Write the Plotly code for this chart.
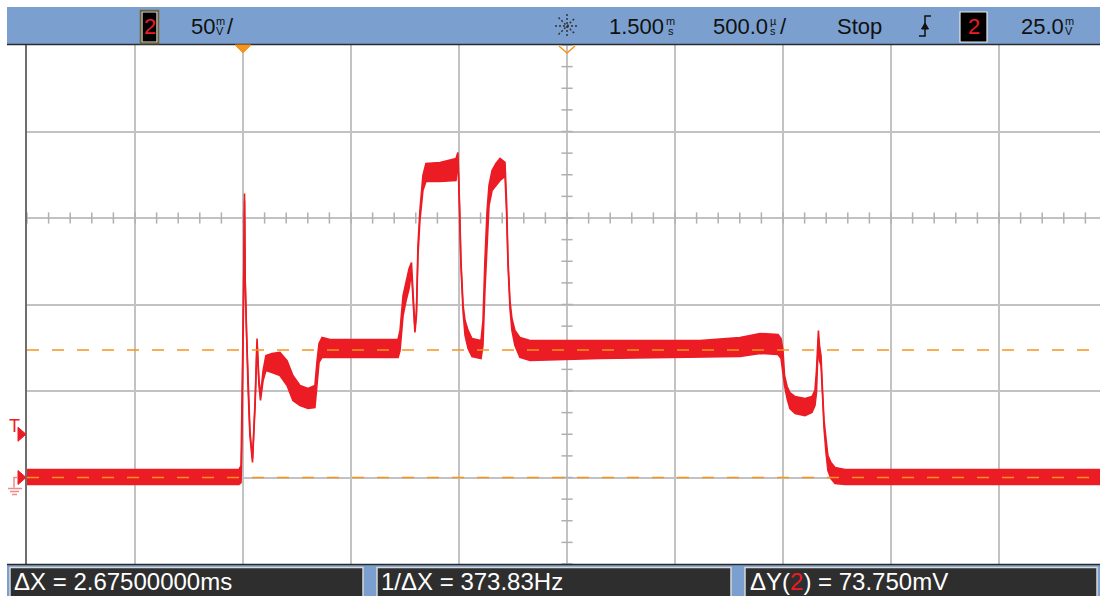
import plotly.graph_objects as go

# ---------------- data (time in ms, voltage in mV) ----------------
t_ms = [-1.000, -0.019, -0.009, -0.005, 0.002, 0.007, 0.010, 0.016, 0.023, 0.032,
        0.044, 0.056, 0.065, 0.074, 0.081, 0.093, 0.106, 0.134, 0.171, 0.204,
        0.231, 0.264, 0.301, 0.333, 0.343, 0.352, 0.366, 0.403, 0.718, 0.727,
        0.741, 0.755, 0.769, 0.780, 0.787, 0.796, 0.803, 0.810, 0.819, 0.833,
        0.847, 0.912, 0.986, 0.995, 1.002, 1.009, 1.019, 1.028, 1.042, 1.060,
        1.102, 1.111, 1.120, 1.130, 1.139, 1.153, 1.171, 1.190, 1.213, 1.220,
        1.227, 1.236, 1.245, 1.259, 1.282, 1.329, 1.653, 2.116, 2.301, 2.394,
        2.477, 2.491, 2.500, 2.507, 2.519, 2.532, 2.556, 2.602, 2.634, 2.648,
        2.655, 2.660, 2.664, 2.669, 2.676, 2.683, 2.690, 2.699, 2.708, 2.722,
        2.741, 2.787, 3.968]
upper_mV = [4.6, 4.6, 6.9, 38.7, 102.3, 164.2, 115.6, 85.0, 56.1, 27.2,
            11.0, 44.5, 80.3, 56.1, 47.4, 61.8, 70.5, 71.7, 72.3, 67.6,
            59.0, 53.2, 51.4, 53.2, 67.6, 77.5, 80.9, 79.8, 79.8, 85.0,
            105.2, 113.9, 120.8, 124.3, 108.1, 86.1, 96.5, 134.1, 154.3, 174.6,
            181.5, 182.1, 184.4, 187.9, 160.1, 125.4, 99.4, 90.7, 85.0, 80.3,
            79.2, 90.7, 125.4, 154.3, 168.8, 177.4, 181.5, 184.4, 182.1, 160.1,
            125.4, 102.3, 91.9, 85.0, 80.9, 79.2, 79.2, 79.2, 80.9, 83.2,
            82.7, 80.3, 73.4, 59.0, 52.6, 49.1, 46.8, 45.7, 46.8, 50.3,
            61.8, 79.2, 85.0, 76.3, 70.5, 50.3, 32.9, 22.5, 12.7, 8.7,
            5.8, 4.6, 4.6]
lower_mV = [-4.0, -4.0, -2.9, 21.4, 96.5, 160.1, 113.9, 82.1, 53.2, 24.3,
            8.7, 41.6, 78.0, 53.2, 44.5, 56.1, 61.8, 60.7, 59.0, 53.2,
            44.5, 41.6, 39.9, 40.5, 53.2, 66.5, 69.4, 69.4, 69.4, 73.4,
            93.6, 102.3, 109.2, 118.5, 105.2, 83.8, 93.6, 128.3, 148.5, 165.9,
            171.1, 171.1, 171.7, 183.2, 157.2, 122.5, 95.4, 82.1, 74.6, 69.9,
            68.8, 76.3, 108.1, 137.0, 157.2, 165.9, 168.8, 171.7, 174.0, 154.3,
            122.5, 97.7, 85.0, 76.3, 69.4, 67.6, 68.8, 69.4, 69.9, 71.7,
            71.1, 68.8, 60.7, 53.2, 45.7, 39.9, 37.0, 35.8, 37.6, 41.6,
            49.1, 70.5, 80.3, 67.6, 64.7, 47.4, 28.3, 14.5, 4.0, -0.6,
            -3.5, -4.0, -4.0]

cursor_t_ms = [0.0, 2.675]       # X1, X2 cursors
cursor_v_mV = [0.0, 73.75]       # Y2, Y1 cursors
trigger_level_mV = 25.0
volts_per_div_mV = 50
time_per_div_us = 500.0
delay_ms = 1.5
x_range = [-1.0, 3.9676]
y_range = [-50, 250]

# ---------------- styling ----------------
RED = "#EC1C24"
ORANGE = "#F7941D"
PALE_OR = "#F9BC7A"
GRID = "#C2C2C2"
BLUE = "#7BA0CF"
BOXBG = "#2E2E2E"
FONT = "Liberation Sans, Arial, sans-serif"

W, H = 1100, 596
L, T, B, R = 27, 45, 32, 0
PW, PH = W - L - R, H - T - B


def px(x):
    return (x - L) / PW


def py(y):
    return (H - B - y) / PH


fig = go.Figure()

# centre-axis minor ticks
n_xt = int(round((x_range[1] - x_range[0]) / 0.1)) + 1
xt = [x_range[0] + 0.1 * i for i in range(n_xt)]
fig.add_trace(go.Scatter(x=xt, y=[150] * len(xt), mode="markers",
                         marker=dict(symbol="line-ns", size=8,
                                     line=dict(color="#B0B0B0", width=1.5)),
                         hoverinfo="skip", showlegend=False))
yt = [y_range[0] + 12.5 * i for i in range(25)]
fig.add_trace(go.Scatter(x=[delay_ms] * len(yt), y=yt, mode="markers",
                         marker=dict(symbol="line-ew", size=8,
                                     line=dict(color="#B0B0B0", width=1.5)),
                         hoverinfo="skip", showlegend=False))
fig.add_shape(type="line", xref="paper", yref="y", x0=0, x1=1, y0=150, y1=150,
              line=dict(color="#B0B0B0", width=1.5), layer="below")
fig.add_shape(type="line", xref="x", yref="paper", x0=delay_ms, x1=delay_ms, y0=0, y1=1,
              line=dict(color="#B0B0B0", width=1.5), layer="below")

# signal envelope
fig.add_trace(go.Scatter(x=t_ms, y=lower_mV, mode="lines",
                         line=dict(color=RED, width=1.6),
                         hoverinfo="skip", showlegend=False))
fig.add_trace(go.Scatter(x=t_ms, y=upper_mV, mode="lines", fill="tonexty",
                         fillcolor=RED, line=dict(color=RED, width=1.6),
                         hoverinfo="skip", showlegend=False))

shapes = []
for tc in cursor_t_ms:
    shapes.append(dict(type="line", xref="x", yref="paper", x0=tc, x1=tc, y0=1, y1=0,
                       line=dict(color=PALE_OR, width=2, dash="12px,12px")))
for vc in cursor_v_mV:
    shapes.append(dict(type="line", xref="paper", yref="y", x0=0, x1=1, y0=vc, y1=vc,
                       line=dict(color=ORANGE, width=1.5, dash="12px,13px")))

# header bar
shapes.append(dict(type="rect", xref="paper", yref="paper", x0=px(7), x1=px(1100),
                   y0=py(44), y1=py(7), fillcolor=BLUE, line=dict(width=0)))
shapes.append(dict(type="line", xref="paper", yref="paper", x0=px(7), x1=px(1100),
                   y0=py(44.5), y1=py(44.5), line=dict(color="#2A2A2A", width=1.5)))
# footer bar
shapes.append(dict(type="rect", xref="paper", yref="paper", x0=px(7), x1=px(1100),
                   y0=py(600), y1=py(564), fillcolor=BLUE, line=dict(width=0)))
shapes.append(dict(type="line", xref="paper", yref="paper", x0=px(7), x1=px(1100),
                   y0=py(564.5), y1=py(564.5), line=dict(color="#2A2A2A", width=1.5)))
for (a, b) in [(10, 363), (377, 731), (745, 1097)]:
    shapes.append(dict(type="rect", xref="paper", yref="paper", x0=px(a), x1=px(b),
                       y0=py(604), y1=py(567.5), fillcolor=BOXBG,
                       line=dict(color="#D8D8D8", width=1.5)))

# channel boxes in header
shapes.append(dict(type="rect", xref="paper", yref="paper", x0=px(140.5), x1=px(158.5),
                   y0=py(43.5), y1=py(10.5), fillcolor="#000000",
                   line=dict(color="#6E6232", width=1.5)))
for (a, b) in [(142, 157), (960, 987)]:
    shapes.append(dict(type="rect", xref="paper", yref="paper", x0=px(a), x1=px(b),
                       y0=py(42), y1=py(12), fillcolor="#000000",
                       line=dict(color="#E8E8E8", width=1.2)))

# trigger position marker (solid) and delay marker (open)
shapes.append(dict(type="path", xref="paper", yref="paper",
                   path=f"M {px(235)} {py(45)} L {px(251)} {py(45)} L {px(243)} {py(53)} Z",
                   fillcolor=ORANGE, line=dict(color=ORANGE, width=1)))
shapes.append(dict(type="path", xref="paper", yref="paper",
                   path=f"M {px(559)} {py(46)} L {px(567)} {py(53)} L {px(575)} {py(46)}",
                   line=dict(color=ORANGE, width=1.5)))

# left side markers: trigger level and ground
trig_py = T + (y_range[1] - trigger_level_mV) / (y_range[1] - y_range[0]) * PH
gnd_py = T + (y_range[1] - 0) / (y_range[1] - y_range[0]) * PH
for yy in [trig_py, gnd_py]:
    shapes.append(dict(type="path", xref="paper", yref="paper",
                       path=f"M {px(18)} {py(yy - 7)} L {px(26)} {py(yy)} L {px(18)} {py(yy + 7)} Z",
                       fillcolor=RED, line=dict(color=RED, width=1)))
shapes.append(dict(type="path", xref="paper", yref="paper",
                   path=(f"M {px(18)} {py(gnd_py)} L {px(14)} {py(gnd_py)} L {px(14)} {py(gnd_py + 10)} "
                         f"M {px(8)} {py(gnd_py + 11)} L {px(22)} {py(gnd_py + 11)} "
                         f"M {px(10)} {py(gnd_py + 14)} L {px(19)} {py(gnd_py + 14)} "
                         f"M {px(12)} {py(gnd_py + 17)} L {px(17)} {py(gnd_py + 17)}"),
                   line=dict(color="#F08A8A", width=1.5)))

# trigger edge symbol
shapes.append(dict(type="path", xref="paper", yref="paper",
                   path=(f"M {px(919)} {py(36)} L {px(925)} {py(36)} L {px(925)} {py(16)} "
                         f"L {px(931)} {py(16)}"),
                   line=dict(color="#111111", width=1.5)))
shapes.append(dict(type="path", xref="paper", yref="paper",
                   path=f"M {px(921.5)} {py(29)} L {px(925)} {py(23)} L {px(928.5)} {py(29)} Z",
                   fillcolor="#111111", line=dict(color="#111111", width=1)))

# acquisition "sun" icon
cx, cy = 567, 26
for (dx, dy) in [(12, 0), (0, 12), (8.5, 8.5), (8.5, -8.5)]:
    shapes.append(dict(type="line", xref="paper", yref="paper",
                       x0=px(cx - dx), x1=px(cx + dx), y0=py(cy - dy), y1=py(cy + dy),
                       line=dict(color="#333333", width=1.5, dash="2px,2px")))

annotations = []


def txt(s, x, y, size, color="#111111", xanchor="left"):
    annotations.append(dict(text=s, x=px(x), y=py(y), xref="paper", yref="paper",
                            xanchor=xanchor, yanchor="middle", showarrow=False,
                            font=dict(family=FONT, size=size, color=color)))


HS = 22
US = 11
txt("2", 149.5, 27, HS, RED, "center")
txt(f"{volts_per_div_mV}", 189, 26, HS)
txt("m", 213.5, 21, US)
txt("V", 214, 31, US)
txt("/", 225, 26, HS)
txt(f"{delay_ms:.3f}", 607, 26, HS)
txt("m", 664, 21, US)
txt("s", 665.5, 31, US)
txt(f"{time_per_div_us:.1f}", 711, 26, HS)
txt("µ", 767.5, 21, US)
txt("s", 768, 31, US)
txt("/", 778, 26, HS)
txt("Stop", 835, 26, HS)
txt("2", 973.5, 27, HS, RED, "center")
txt(f"{trigger_level_mV:.1f}", 1019, 26, HS)
txt("m", 1062.5, 21, US)
txt("V", 1063, 31, US)

dx_ms = cursor_t_ms[1] - cursor_t_ms[0]
dy_mV = cursor_v_mV[1] - cursor_v_mV[0]
FS = 24
txt(f"ΔX = {dx_ms:.8f}ms", 12, 581, FS, "#FFFFFF")
txt(f"1/ΔX = {1000.0 / dx_ms:.2f}Hz", 379, 581, FS, "#FFFFFF")
txt(f"ΔY(<span style='color:{RED}'>2</span>) = {dy_mV:.3f}mV", 748, 581, FS, "#FFFFFF")

txt("T", 14, trig_py - 8, 18, RED, "center")

fig.update_layout(
    width=W, height=H,
    margin=dict(l=L, r=R, t=T, b=B, pad=0),
    paper_bgcolor="#FFFFFF", plot_bgcolor="#FFFFFF",
    shapes=shapes, annotations=annotations,
    xaxis=dict(range=x_range, tick0=-1.0, dtick=0.5, showgrid=True, gridcolor=GRID,
               gridwidth=1.5, zeroline=False, showticklabels=False, ticks="",
               showline=False, fixedrange=True),
    yaxis=dict(range=y_range, tick0=0, dtick=50, showgrid=True, gridcolor=GRID,
               gridwidth=1.5, zeroline=False, showticklabels=False, ticks="",
               showline=True, linecolor="#6E6E6E", linewidth=2, fixedrange=True),
    showlegend=False,
)

fig.write_html("out.html", config={"displayModeBar": False},
               post_script="document.body.style.margin='0px';")
